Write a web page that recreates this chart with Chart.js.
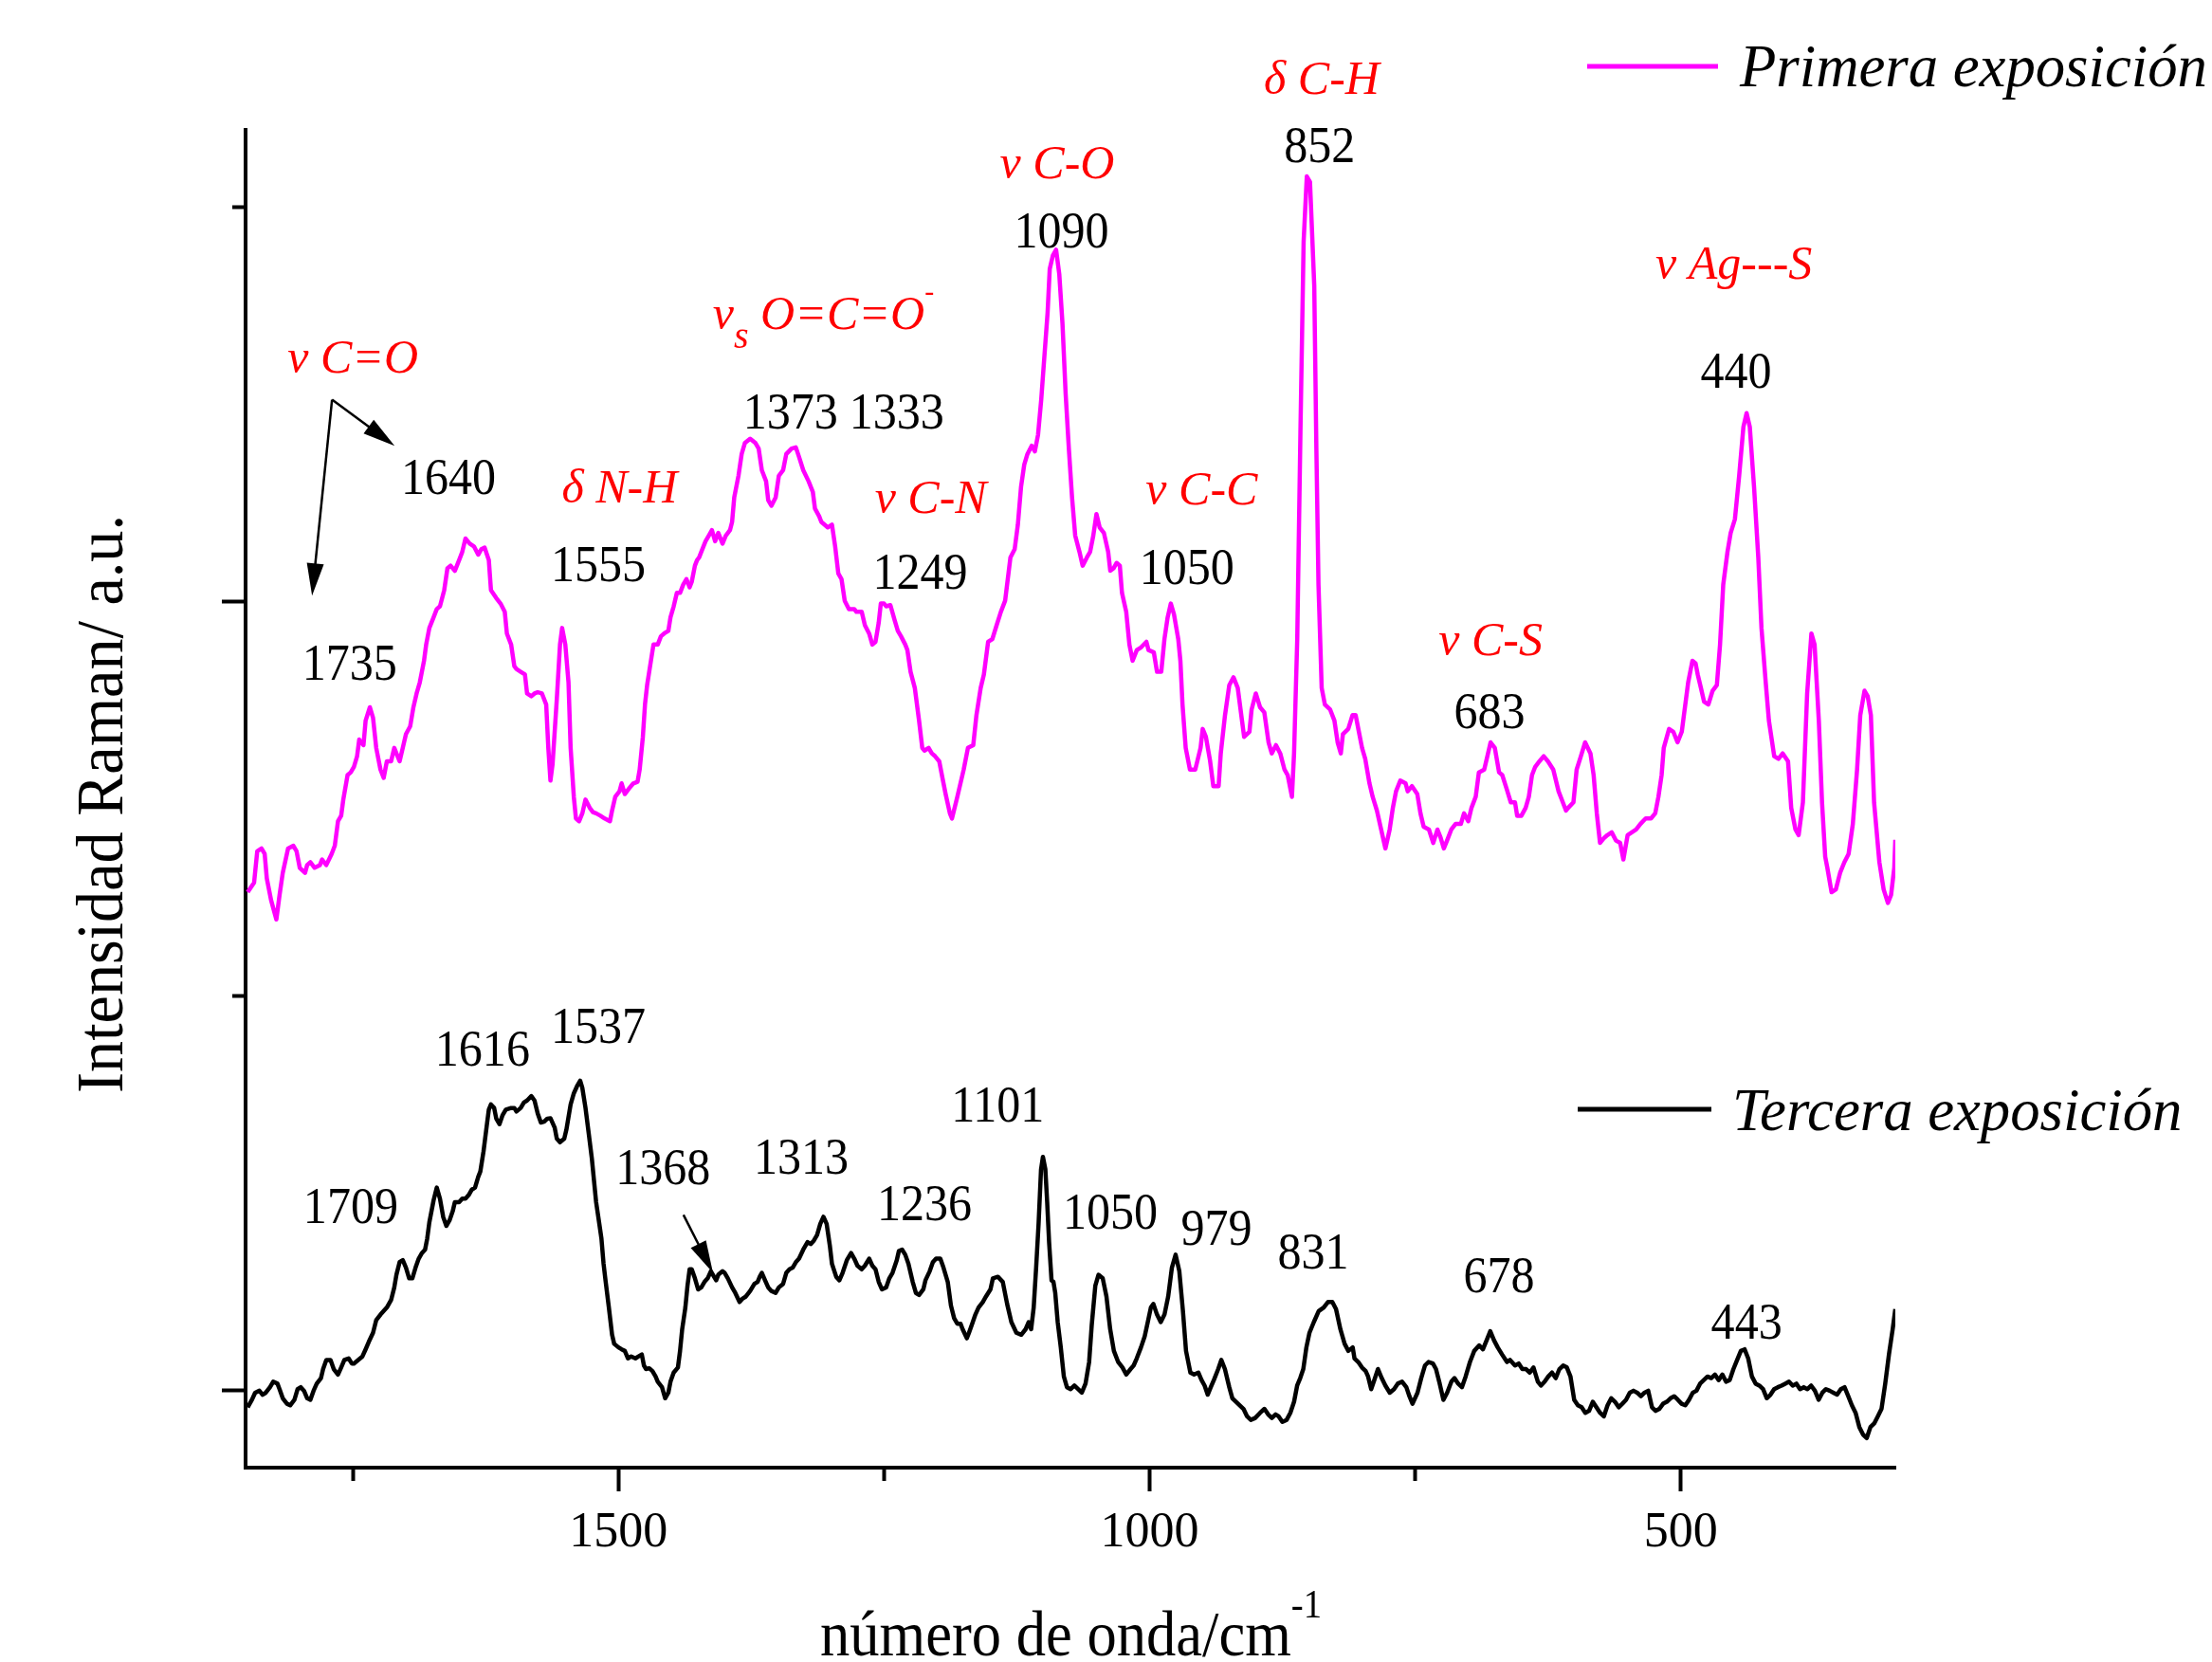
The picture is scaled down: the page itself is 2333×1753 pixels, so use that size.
<!DOCTYPE html>
<html lang="es">
<head>
<meta charset="utf-8">
<title>Espectros Raman</title>
<script src="https://cdn.jsdelivr.net/npm/chart.js@4.4.0/dist/chart.umd.min.js"></script>
<style>
  html, body { margin: 0; padding: 0; background: #fff; }
  canvas { display: block; }
</style>
</head>
<body>
<canvas id="espectro" width="2333" height="1753"></canvas>
<script>
// Primera exposicion (magenta): numero de onda (cm-1) e intensidad (u.a.)
const primeraX = [
  1849,1843,1840,1836,1833,1831,1827,1822,1819,1816,1811,1806,1803,1800,1795,1793,1790,1786,1781,1779,
  1775,1770,1767,1764,1761,1759,1755,1752,1749,1746,1744,1740,1738,1734,1731,1728,1724,1721,1718,1714,
  1711,1709,1706,1703,1700,1696,1693,1690,1687,1683,1681,1678,1674,1671,1668,1664,1661,1658,1654,1650,
  1647,1644,1640,1636,1632,1629,1626,1622,1620,1615,1611,1607,1605,1601,1598,1596,1592,1588,1586,1582,
  1579,1576,1572,1568,1566,1564,1562,1558,1555,1553,1550,1547,1545,1542,1540,1537,1534,1531,1527,1524,
  1521,1517,1513,1508,1506,1503,1499,1497,1494,1490,1486,1482,1480,1477,1475,1473,1469,1467,1463,1460,
  1457,1453,1451,1448,1445,1442,1439,1436,1433,1431,1428,1426,1424,1422,1418,1415,1412,1409,1406,1402,
  1399,1395,1393,1391,1387,1384,1381,1376,1371,1368,1365,1361,1359,1356,1352,1349,1345,1342,1337,1333,
  1330,1326,1321,1317,1315,1311,1309,1303,1299,1296,1293,1290,1287,1283,1278,1276,1271,1268,1264,1261,
  1258,1255,1253,1250,1248,1244,1240,1237,1234,1230,1228,1225,1221,1217,1214,1212,1208,1205,1202,1198,
  1195,1192,1188,1186,1181,1175,1171,1166,1163,1159,1156,1152,1148,1144,1140,1136,1131,1127,1124,1121,
  1118,1115,1111,1108,1105,1102,1099,1096,1094,1091,1088,1085,1082,1079,1076,1073,1070,1066,1063,1059,
  1056,1053,1050,1047,1043,1039,1037,1034,1031,1028,1026,1022,1019,1016,1012,1008,1003,1001,996,993,
  989,986,983,980,977,973,971,969,966,962,957,952,950,947,943,940,935,933,929,925,
  921,917,913,911,906,904,900,896,892,888,885,881,877,873,870,866,864,861,858,855,
  852,849,845,843,841,838,835,830,826,823,820,818,813,809,806,803,800,797,793,790,
  786,782,778,774,771,768,764,759,757,753,748,745,742,737,733,729,726,723,720,716,
  712,707,704,700,697,693,690,685,682,679,675,671,668,664,660,656,654,650,646,643,
  640,637,633,629,625,620,615,611,608,606,601,598,594,590,585,582,579,576,572,569,
  565,561,557,554,550,546,542,538,533,528,524,521,518,516,511,507,503,499,497,493,
  489,486,484,481,478,474,470,466,463,460,456,453,449,445,441,438,435,431,427,424,
  420,417,412,408,404,399,396,392,389,385,381,377,374,370,367,364,362,358,354,350,
  346,342,338,334,331,327,324,321,318,313,309,305,302,299,298
];
const primeraY = [
  1262,1286,1366,1373,1359,1297,1242,1193,1255,1311,1373,1380,1366,1324,1311,1331,1338,1324,1331,1345,
  1331,1359,1380,1442,1456,1497,1559,1566,1580,1607,1649,1635,1697,1731,1704,1628,1573,1552,1594,1594,
  1628,1614,1594,1628,1663,1683,1731,1766,1794,1849,1890,1932,1959,1980,1987,2028,2083,2090,2077,2104,
  2125,2159,2146,2139,2118,2132,2136,2104,2028,2008,1994,1973,1918,1890,1835,1828,1821,1814,1766,1759,
  1766,1769,1766,1738,1628,1545,1587,1752,1890,1932,1890,1794,1628,1504,1449,1442,1462,1497,1476,1465,
  1462,1456,1449,1442,1469,1504,1518,1538,1511,1525,1538,1542,1573,1656,1738,1787,1856,1890,1890,1911,
  1918,1925,1959,1987,2021,2021,2042,2056,2035,2049,2090,2104,2111,2125,2152,2166,2180,2152,2173,2146,
  2166,2180,2201,2263,2318,2373,2401,2412,2401,2387,2332,2304,2256,2242,2263,2318,2332,2373,2387,2390,
  2366,2332,2304,2277,2235,2215,2201,2187,2194,2139,2070,2056,2001,1980,1980,1973,1973,1939,1918,1890,
  1897,1945,1994,1994,1987,1990,1952,1925,1911,1890,1876,1821,1780,1697,1628,1621,1628,1614,1607,1594,
  1552,1511,1462,1449,1504,1573,1628,1635,1711,1780,1814,1897,1904,1939,1973,2001,2111,2132,2194,2290,
  2346,2373,2394,2380,2422,2511,2622,2732,2842,2877,2891,2829,2704,2525,2387,2263,2166,2125,2090,2111,
  2125,2166,2221,2187,2173,2125,2077,2083,2097,2090,2021,1973,1890,1849,1876,1883,1897,1876,1870,1821,
  1821,1904,1959,1994,1966,1904,1849,1738,1628,1573,1573,1628,1676,1656,1594,1531,1531,1614,1711,1787,
  1807,1780,1697,1656,1669,1725,1766,1731,1718,1642,1614,1635,1614,1573,1559,1504,1614,1904,2428,2911,
  3077,3063,2801,2387,2042,1780,1738,1725,1697,1642,1614,1663,1676,1711,1711,1669,1628,1600,1538,1504,
  1469,1421,1373,1421,1476,1518,1545,1538,1518,1531,1511,1462,1428,1421,1387,1421,1400,1373,1393,1421,
  1435,1435,1462,1442,1476,1504,1566,1573,1607,1642,1628,1566,1559,1525,1490,1490,1456,1456,1476,1504,
  1559,1580,1594,1607,1594,1573,1518,1490,1469,1476,1490,1573,1607,1642,1614,1559,1462,1387,1400,1407,
  1414,1393,1387,1345,1407,1414,1421,1435,1449,1449,1462,1504,1559,1628,1676,1669,1642,1669,1711,1794,
  1849,1842,1814,1780,1745,1738,1773,1787,1890,2042,2125,2173,2208,2318,2442,2477,2442,2290,2111,1932,
  1794,1697,1607,1600,1614,1594,1476,1421,1407,1490,1766,1918,1890,1697,1490,1352,1324,1262,1269,1311,
  1338,1359,1435,1573,1711,1773,1759,1711,1490,1338,1269,1235,1255,1324,1395
];

// Tercera exposicion (negro)
const terceraX = [
  1849,1845,1842,1838,1835,1832,1828,1825,1821,1819,1816,1812,1809,1805,1802,1799,1796,1793,1790,1787,
  1784,1780,1778,1775,1771,1768,1764,1761,1758,1754,1751,1749,1745,1741,1738,1735,1731,1728,1724,1721,
  1718,1714,1711,1709,1706,1703,1700,1697,1694,1691,1688,1685,1682,1680,1678,1674,1671,1668,1665,1662,
  1659,1656,1654,1650,1647,1644,1641,1638,1635,1632,1630,1627,1624,1622,1620,1617,1615,1612,1609,1606,
  1601,1598,1596,1592,1589,1586,1582,1579,1576,1573,1570,1567,1564,1560,1558,1555,1551,1549,1545,1542,
  1539,1536,1534,1531,1528,1525,1523,1521,1518,1516,1514,1512,1509,1506,1504,1500,1497,1494,1491,1488,
  1484,1481,1478,1476,1474,1471,1468,1465,1463,1459,1456,1453,1451,1448,1444,1442,1440,1437,1435,1433,
  1431,1428,1425,1422,1419,1416,1413,1410,1408,1406,1402,1400,1397,1393,1390,1386,1383,1380,1376,1372,
  1369,1367,1365,1362,1359,1356,1352,1349,1345,1342,1339,1336,1333,1330,1326,1322,1319,1316,1313,1310,
  1307,1304,1301,1299,1295,1292,1289,1285,1281,1278,1275,1271,1268,1264,1261,1258,1255,1252,1248,1245,
  1242,1238,1236,1233,1230,1227,1223,1220,1217,1213,1211,1207,1204,1201,1197,1194,1190,1187,1184,1181,
  1178,1176,1172,1170,1167,1164,1161,1157,1154,
  1149.8,1147.5,1142.8,1138.2,1134.1,1130.1,1125.4,1120.8,1116.7,1113.8,1111.5,1109.1,1106.8,1104.5,1102.2,1100.4,1098.1,1096.4,1094.6,1092.3,
  1090.5,1088.8,1086.5,1083.6,1080.7,1077.8,1074.3,1070.8,1067.3,1063.8,1060.3,1056.9,1054.5,1051.1,1048.1,1044.1,1040.6,1037.1,1033.6,1029.6,
  1025.5,1022,1017.9,1015,1012.1,1008.1,1004.6,1001.7,998.8,996.4,993,989.5,986,982.5,979,975.5,972,968.6,965.7,961.6,
  958.1,954.1,951.1,948.2,945.3,942.4,939.5,935.4,932.5,929.1,925,922.1,918.6,915.1,911.6,908.2,904.7,900.6,896,891.9,
  888.4,884.9,881.4,878.5,875,871,867.5,864,861.1,858.2,855.3,852.4,849.5,845.4,840.8,836.1,832.1,828,824.5,820.4,
  816.4,812.9,808.8,807.1,803.6,800.1,796.6,794.3,791.4,788.5,785,781.5,778,773.9,769.9,766.4,762.3,758.3,755.4,752.5,
  747.8,744.3,740.8,737.4,733.3,730.4,726.9,723.4,719.9,715.9,713,709.5,706,702.5,698.4,694.4,689.7,686.2,682.7,679.3,
  675.8,672.3,668.2,663.6,660.7,656,652.5,649.1,645.6,642.1,638.6,634.5,631.6,628.1,624.7,621.2,617.7,614.2,610.7,607.2,
  603.8,600.3,596.8,593.3,589.8,586.3,582.8,579.4,575.9,572.4,568.9,565.4,561.9,558.4,555,551.5,548,544.5,541,537.5,
  534.1,530.6,527.1,523.6,520.1,516.6,513.1,509.6,506.2,502.7,499.2,495.7,492.2,488.7,485.2,481.8,478.3,474.8,471.3,467.8,
  464.3,460.8,457.4,453.9,450.4,446.9,443.4,439.9,436.5,433,429.5,426,422.5,419,415.5,412.1,408.6,405.1,401.6,398.1,
  394.6,391.1,387.7,384.2,380.7,377.2,373.7,370.2,366.7,363.3,359.8,356.3,352.8,349.3,345.8,342.3,338.9,335.4,331.9,328.4,
  324.9,321.4,317.9,314.5,311,307.5,304,300.5,298
];
const terceraY = [
  -44,-25,-7,-2,-12,-7,7,21,16,2,-21,-35,-39,-25,2,7,-2,-21,-25,-2,
  16,30,53,76,76,53,39,57,76,80,67,67,76,85,103,122,145,177,191,200,
  209,228,260,292,324,329,310,283,283,310,333,347,356,384,425,481,513,485,439,416,
  430,453,476,476,485,485,494,508,513,540,554,605,669,711,724,715,688,674,697,711,
  715,715,706,715,729,734,745,734,701,678,680,688,689,665,637,628,637,660,724,752,
  770,784,766,715,651,586,531,476,421,384,320,274,209,140,117,108,103,99,80,85,
  80,85,90,62,53,55,48,34,21,7,-21,-7,21,44,57,99,154,209,264,306,
  306,283,255,260,274,283,301,287,278,292,301,297,283,260,246,223,232,237,251,269,
  274,287,297,278,260,251,246,260,269,297,306,310,324,333,356,375,370,379,393,421,
  439,421,366,320,287,278,297,329,347,333,315,306,315,333,315,306,274,255,260,283,
  297,329,352,356,343,320,274,246,241,255,278,301,324,333,333,310,274,214,182,168,
  168,154,131,145,168,191,209,223,237,
  255,283,287,274,218,172,145,140,154,172,154,209,310,421,559,591,559,476,375,278,
  274,246,172,108,34,7,2,11,2,-7,16,71,163,264,292,283,237,154,99,71,
  57,39,53,62,80,108,136,172,209,218,191,172,191,237,310,343,301,200,99,44,
  39,44,25,11,-12,7,25,53,76,53,7,-21,-30,-39,-48,-67,-76,-71,-58,-48,
  -62,-71,-62,-67,-81,-76,-58,-30,11,30,53,108,145,172,200,209,223,223,205,154,
  117,99,108,80,71,57,48,34,2,25,53,30,11,-7,2,16,21,7,-16,-35,
  -7,30,62,71,67,53,16,-25,-7,21,30,16,7,34,71,99,113,103,126,149,
  126,108,90,71,76,62,67,53,53,44,57,21,11,21,34,44,30,53,62,57,
  34,-25,-39,-44,-58,-53,-30,-44,-58,-67,-39,-21,-30,-44,-35,-25,-7,-2,-7,-16,
  -7,-2,-44,-53,-48,-35,-30,-21,-16,-25,-35,-39,-25,-7,-2,16,25,34,30,39,
  25,39,21,25,53,76,99,103,80,34,16,11,2,-21,-12,2,7,11,16,21,
  11,16,2,7,2,11,-2,-25,-7,2,-2,-7,-12,2,7,-16,-39,-58,-94,-113,
  -122,-94,-85,-67,-48,16,90,154,205
];

// marcas de los ejes
const ticksX = [500, 1000, 1500];
const ticksXmenores = [750, 1250, 1750];
const ticksY = [0, 2000];
const ticksYmenores = [1000, 3000];

// etiquetas de picos (texto, posicion en numero de onda, posicion en intensidad)
const picosPrimera  = ['1640', '1735', '1555', '1373', '1333', '1249', '1090', '1050', '852', '683', '440'];
const picosPrimeraX = [1660, 1753, 1519, 1338, 1238, 1216, 1083, 965, 840, 680, 448];
const picosPrimeraY = [2315, 1844, 2094, 2481, 2481, 2075, 2940, 2087, 3156, 1721, 2584];

const picosTercera  = ['1616', '1537', '1709', '1368', '1313', '1236', '1101', '1050', '979', '831', '678', '443'];
const picosTerceraX = [1628, 1519, 1752, 1458, 1328, 1212, 1143, 1037, 937, 846, 671, 438];
const picosTerceraY = [865, 923, 466, 565, 591, 474, 724, 452, 411, 351, 291, 173];

// asignaciones (rojo): partes [texto, escala, desplazamiento vertical]
const modos = [
  { partes: [['ν', 1, 0], [' C=O', 1, 0]], x: 1750, y: 2620 },
  { partes: [['δ', 1, 0], [' N-H', 1, 0]], x: 1499, y: 2291 },
  { partes: [['ν', 1, 0], ['s', 0.8, 20], [' O=C=O', 1, 0], ['-', 0.6, -30]], x: 1307, y: 2731 },
  { partes: [['ν', 1, 0], [' C-N', 1, 0]], x: 1206, y: 2264 },
  { partes: [['ν', 1, 0], [' C-O', 1, 0]], x: 1087, y: 3113 },
  { partes: [['δ', 1, 0], [' C-H', 1, 0]], x: 838, y: 3327 },
  { partes: [['ν', 1, 0], [' C-C', 1, 0]], x: 951, y: 2284 },
  { partes: [['ν', 1, 0], [' C-S', 1, 0]], x: 679, y: 1904 },
  { partes: [['ν', 1, 0], [' Ag---S', 1, 0]], x: 450, y: 2858 }
];

// flechas: [x0, y0, x1, y1] en unidades de datos
const flechas = [
  [1769.6, 2511, 1710.7, 2394],
  [1769.6, 2511, 1788.4, 2014],
  [1438.8, 444, 1411, 297]
];

const fuente = '"Liberation Serif", "Times New Roman", serif';

function escribir(ctx, partes, cx, cy, tam, color, cursiva, compresion, alinear, giro) {
  ctx.save();
  ctx.fillStyle = color;
  ctx.textBaseline = 'alphabetic';
  ctx.textAlign = 'left';
  const estilo = cursiva ? 'italic ' : '';
  const anchos = partes.map(([t, f]) => {
    ctx.font = estilo + (tam * f) + 'px ' + fuente;
    return ctx.measureText(t).width;
  });
  const total = anchos.reduce((a, b) => a + b, 0);
  ctx.translate(cx, cy);
  if (giro) ctx.rotate(giro);
  ctx.scale(compresion, 1);
  let xx = alinear === 'left' ? 0 : -total / 2;
  const base = tam * 0.33;
  partes.forEach(([t, f, dy], i) => {
    ctx.font = estilo + (tam * f) + 'px ' + fuente;
    ctx.fillText(t, xx, base + dy);
    xx += anchos[i];
  });
  ctx.restore();
}

function flecha(ctx, x0, y0, x1, y1) {
  const ang = Math.atan2(y1 - y0, x1 - x0);
  const largo = 34, medio = 9;
  ctx.save();
  ctx.strokeStyle = '#000';
  ctx.fillStyle = '#000';
  ctx.lineWidth = 2.5;
  ctx.beginPath();
  ctx.moveTo(x0, y0);
  ctx.lineTo(x1 - Math.cos(ang) * largo * 0.8, y1 - Math.sin(ang) * largo * 0.8);
  ctx.stroke();
  ctx.beginPath();
  ctx.moveTo(x1, y1);
  ctx.lineTo(x1 - Math.cos(ang) * largo + Math.sin(ang) * medio, y1 - Math.sin(ang) * largo - Math.cos(ang) * medio);
  ctx.lineTo(x1 - Math.cos(ang) * largo - Math.sin(ang) * medio, y1 - Math.sin(ang) * largo + Math.cos(ang) * medio);
  ctx.closePath();
  ctx.fill();
  ctx.restore();
}

const anotaciones = {
  id: 'anotaciones',
  afterDraw(chart) {
    const ctx = chart.ctx;
    const x = chart.scales.x;
    const y = chart.scales.y;
    const px = v => x.getPixelForValue(v);
    const py = v => y.getPixelForValue(v);

    picosPrimera.forEach((t, i) => {
      escribir(ctx, [[t, 1, 0]], px(picosPrimeraX[i]), py(picosPrimeraY[i]), 55, '#000', false, 0.91);
    });
    picosTercera.forEach((t, i) => {
      escribir(ctx, [[t, 1, 0]], px(picosTerceraX[i]), py(picosTerceraY[i]), 55, '#000', false, 0.91);
    });
    modos.forEach(m => {
      escribir(ctx, m.partes, px(m.x), py(m.y), 50, '#ff0000', true, 1);
    });
    flechas.forEach(f => flecha(ctx, px(f[0]), py(f[1]), px(f[2]), py(f[3])));

    // leyendas
    ctx.save();
    ctx.lineWidth = 5;
    ctx.strokeStyle = '#ff00ff';
    ctx.beginPath(); ctx.moveTo(1674, 70); ctx.lineTo(1812, 70); ctx.stroke();
    ctx.strokeStyle = '#000';
    ctx.beginPath(); ctx.moveTo(1664, 1170); ctx.lineTo(1805, 1170); ctx.stroke();
    ctx.restore();
    escribir(ctx, [['Primera exposición', 1, 0]], 1835, 70, 64, '#000', true, 0.98, 'left');
    escribir(ctx, [['Tercera exposición', 1, 0]], 1827, 1171, 64, '#000', true, 0.98, 'left');

    // titulos de ejes
    escribir(ctx, [['número de onda/cm', 1, 0], ['-1', 0.62, -40]], 865, 1724, 68, '#000', false, 0.92, 'left');
    escribir(ctx, [['Intensidad Raman/ a.u.', 1, 0]], 106, 848, 70, '#000', false, 0.945, 'center', -Math.PI / 2);
  }
};

const marcas = valores => scale => { scale.ticks = valores.map(v => ({ value: v })); };

const ejeX = {
  type: 'linear', reverse: true, min: 298, max: 1851, position: 'bottom'
};
const ejeY = {
  type: 'linear', min: -197, max: 3195, position: 'left'
};

new Chart(document.getElementById('espectro'), {
  type: 'line',
  data: {
    datasets: [
      {
        label: 'Primera exposición',
        data: primeraX.map((v, i) => ({ x: v, y: primeraY[i] })),
        borderColor: '#ff00ff',
        borderWidth: 4.5,
        pointRadius: 0,
        tension: 0,
        fill: false,
        borderJoinStyle: 'round'
      },
      {
        label: 'Tercera exposición',
        data: terceraX.map((v, i) => ({ x: v, y: terceraY[i] })),
        borderColor: '#000000',
        borderWidth: 4.5,
        pointRadius: 0,
        tension: 0,
        fill: false,
        borderJoinStyle: 'round'
      }
    ]
  },
  options: {
    responsive: false,
    animation: false,
    devicePixelRatio: 1,
    layout: { padding: { top: 137, right: 334, left: 0, bottom: 0 } },
    plugins: { legend: { display: false }, tooltip: { enabled: false } },
    scales: {
      x: {
        ...ejeX, weight: 1,
        afterBuildTicks: marcas(ticksX),
        afterFit: s => { s.height = 205; },
        ticks: { color: '#000', padding: 13, maxRotation: 0, autoSkip: false,
                 callback: v => String(v),
                 font: { family: fuente, size: 52 } },
        grid: { drawOnChartArea: false, tickLength: 25, tickWidth: 4, tickColor: '#000' },
        border: { display: true, color: '#000', width: 4 }
      },
      x2: {
        ...ejeX, weight: 0,
        afterBuildTicks: marcas(ticksXmenores),
        afterFit: s => { s.height = 0; },
        ticks: { display: false },
        grid: { drawOnChartArea: false, tickLength: 14, tickWidth: 4, tickColor: '#000' },
        border: { display: false }
      },
      y: {
        ...ejeY, weight: 1,
        afterBuildTicks: marcas(ticksY),
        afterFit: s => { s.width = 259; },
        ticks: { display: false },
        grid: { drawOnChartArea: false, tickLength: 25, tickWidth: 4, tickColor: '#000' },
        border: { display: true, color: '#000', width: 4 }
      },
      y2: {
        ...ejeY, weight: 0,
        afterBuildTicks: marcas(ticksYmenores),
        afterFit: s => { s.width = 0; },
        ticks: { display: false },
        grid: { drawOnChartArea: false, tickLength: 14, tickWidth: 4, tickColor: '#000' },
        border: { display: false }
      }
    }
  },
  plugins: [anotaciones]
});
</script>
</body>
</html>
